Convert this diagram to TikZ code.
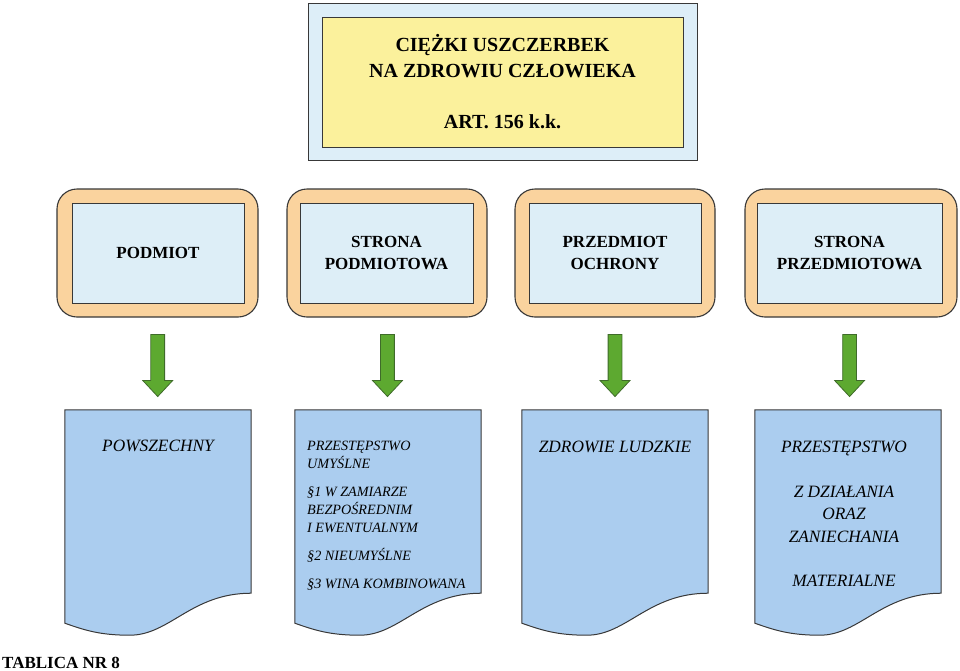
\documentclass[tikz,border=0pt]{standalone}
\usepackage{fontspec}
\setmainfont{Liberation Serif}
\usepackage{xcolor}
\usetikzlibrary{shapes.arrows,calc,positioning}

\definecolor{framesky}{HTML}{DDEEF8}
\definecolor{titleyellow}{HTML}{FBF19C}
\definecolor{orangeframe}{HTML}{FAD39E}
\definecolor{paleblue}{HTML}{DDEEF7}
\definecolor{docblue}{HTML}{ABCDEF}
\definecolor{arrowgreen}{HTML}{5DA930}
\definecolor{arrowedge}{HTML}{3F6B2A}
\definecolor{edgegray}{HTML}{383838}

\begin{document}
\begin{tikzpicture}[x=1pt, y=-1pt,
    outerbox/.style={rectangle, draw=edgegray, line width=1pt, fill=framesky},
    titlebox/.style={rectangle, draw=edgegray, line width=0.9pt, fill=titleyellow, minimum width=361pt, minimum height=130pt, align=center, font=\fontsize{20}{25.7}\selectfont\bfseries},
    orangebox/.style={rectangle, rounded corners=20pt, draw=edgegray, line width=1.1pt, fill=orangeframe, minimum height=128pt},
    innerbox/.style={rectangle, draw=edgegray, line width=0.9pt, fill=paleblue, minimum height=100pt, align=center, font=\fontsize{17}{22}\selectfont\bfseries},
    docbox/.style={rectangle, minimum width=186pt, minimum height=183pt, inner sep=0pt},
    docline/.style={draw=edgegray, line width=1pt, fill=docblue},
    doctext/.style={font=\fontsize{17.3}{22.3}\selectfont\itshape, align=center, inner sep=0pt},
    greenarrow/.style={single arrow, draw=arrowedge, fill=arrowgreen, line width=0.8pt, minimum height=62pt, inner sep=6.5pt, single arrow head extend=8pt, single arrow tip angle=86, shape border rotate=270}
]
\useasboundingbox (0,0) rectangle (960,670);

% title
\node[outerbox, minimum width=389pt, minimum height=157pt] (titleframe) at (502.5,81.5) {};
\node[titlebox] (title) at (502.5,82) {CIĘŻKI USZCZERBEK\\NA ZDROWIU CZŁOWIEKA\\[25.7pt]ART. 156 k.k.};

% upper boxes
\node[orangebox, minimum width=201pt] (frameA) at (157.5,253) {};
\node[innerbox, minimum width=172pt] (podmiot) at (158,253) {PODMIOT};
\node[orangebox, minimum width=200pt] (frameB) at (387,253) {};
\node[innerbox, minimum width=173pt] (strpodm) at (386.5,253) {STRONA\\PODMIOTOWA};
\node[orangebox, minimum width=200pt] (frameC) at (615,253) {};
\node[innerbox, minimum width=172pt] (przedmiot) at (615,253) {PRZEDMIOT\\OCHRONY};
\node[orangebox, minimum width=212pt] (frameD) at (851,253) {};
\node[innerbox, minimum width=185pt] (strprzed) at (849.5,253) {STRONA\\PRZEDMIOTOWA};

% documents
\node[docbox] (docA) at (158,501.5) {};
\node[docbox] (docB) at (388,501.5) {};
\node[docbox] (docC) at (615,501.5) {};
\node[docbox] (docD) at (848,501.5) {};
\foreach \n in {docA,docB,docC,docD}
  \draw[docline] (\n.north west) -- (\n.north east) -- (\n.south east)
    .. controls +(-60,0) and +(40,0) .. ($(\n.south west)+(65,42)$)
    .. controls +(-30,0) and +(20,7) .. ($(\n.south west)+(0,30)$) -- cycle;

\node[doctext] (powszechny) at ($(docA.north)+(0,36)$) {POWSZECHNY};
\node[doctext, font=\fontsize{14.2}{18}\selectfont\itshape, align=left, anchor=west] (umyslne) at (307,516) {PRZESTĘPSTWO\\UMYŚLNE\\[10pt]§1 W ZAMIARZE\\BEZPOŚREDNIM\\I EWENTUALNYM\\[10pt]§2 NIEUMYŚLNE\\[10pt]§3 WINA KOMBINOWANA};
\node[doctext] (zdrowie) at ($(docC.north)+(0,37)$) {ZDROWIE LUDZKIE};
\node[doctext] (dzialanie) at (844,514) {PRZESTĘPSTWO\\[22.3pt]Z DZIAŁANIA\\ORAZ\\ZANIECHANIA\\[22.3pt]MATERIALNE};

% arrows
\foreach \f/\d in {frameA/docA,frameB/docB,frameC/docC,frameD/docD}
  \node[greenarrow] at ($(\f.south)!0.48!(\d.north)$) {};

\node[font=\fontsize{17}{18}\selectfont\bfseries, anchor=base west, inner sep=0pt] (tablica) at (2,668) {TABLICA NR 8};
\end{tikzpicture}
\end{document}
